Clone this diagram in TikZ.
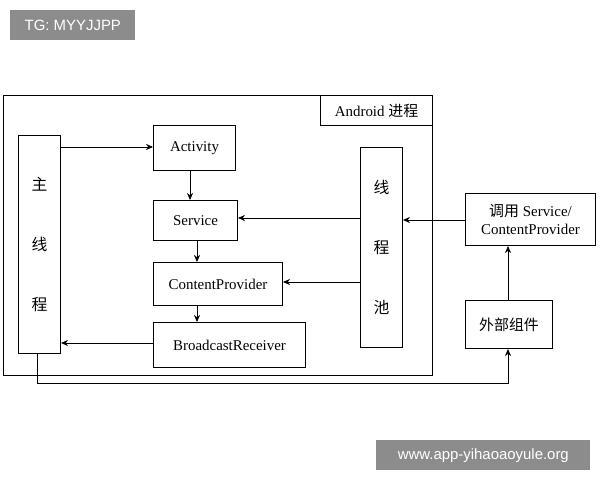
\documentclass[tikz,border=0pt]{standalone}
\usepackage{fontspec}
\setmainfont{Liberation Serif}
\newfontfamily\cjk{Noto Sans CJK SC}
\newfontfamily\wm{Liberation Sans}
\usetikzlibrary{arrows.meta}
\begin{document}
\begin{tikzpicture}[x=0.02cm,y=-0.02cm,
  box/.style={draw,line width=0.6pt,anchor=north west,inner sep=0pt,font=\fontsize{8.5}{10.5}\selectfont},
  arr/.style={-{Stealth[length=4pt,width=3.5pt]},line width=0.5pt},
  wmk/.style={fill=black!45,text=white,anchor=north west,inner sep=0pt,font=\wm\fontsize{8.5}{10}\selectfont}]
\useasboundingbox (0,0) rectangle (600,480);
\node[wmk,minimum width=2.5cm,minimum height=0.6cm] (tg) at (10,10) {TG: MYYJJPP};
\node[wmk,minimum width=4.28cm,minimum height=0.6cm] (www) at (376,440) {www.app-yihaoaoyule.org};
\node[box,minimum width=8.58cm,minimum height=5.6cm] (outer) at (3,95) {};
\node[box,minimum width=2.24cm,minimum height=0.6cm] (lbl) at (320,95) {Android {\cjk 进程}};
\node[box,minimum width=0.84cm,minimum height=4.36cm,align=center,font=\cjk\fontsize{9}{34}\selectfont] (main) at (18,135) {主\\线\\程};
\node[box,minimum width=1.64cm,minimum height=0.9cm] (act) at (153,125) {Activity};
\node[box,minimum width=1.68cm,minimum height=0.8cm] (svc) at (153,200) {Service};
\node[box,minimum width=2.58cm,minimum height=0.86cm] (cp) at (153,262) {ContentProvider};
\node[box,minimum width=3.04cm,minimum height=0.9cm] (br) at (153,322) {BroadcastReceiver};
\node[box,minimum width=0.84cm,minimum height=4cm,align=center,font=\cjk\fontsize{9}{34}\selectfont] (pool) at (360,147) {线\\程\\池};
\node[box,minimum width=2.6cm,minimum height=1.04cm,align=center] (call) at (465,193) {{\cjk 调用} Service/\\ContentProvider};
\node[box,minimum width=1.74cm,minimum height=0.96cm,font=\cjk\fontsize{8.5}{10}\selectfont] (ext) at (465,300) {外部组件};
\draw[arr] (main.east|-0,147) -- (act.west|-0,147);
\draw[arr] (act.south-|190,0) -- (svc.north-|190,0);
\draw[arr] (svc.south-|197,0) -- (cp.north-|197,0);
\draw[arr] (cp.south-|197,0) -- (br.north-|197,0);
\draw[arr] (br.west|-0,343) -- (main.east|-0,343);
\draw[arr] (pool.west|-0,218) -- (svc.east|-0,218);
\draw[arr] (pool.west|-0,282) -- (cp.east|-0,282);
\draw[arr] (call.west|-0,220) -- (pool.east|-0,220);
\draw[arr] (ext.north-|508,0) -- (call.south-|508,0);
\draw[arr] (main.south-|37,0) -- (37,383) -- (508,383) -- (ext.south-|508,0);
\end{tikzpicture}
\end{document}
